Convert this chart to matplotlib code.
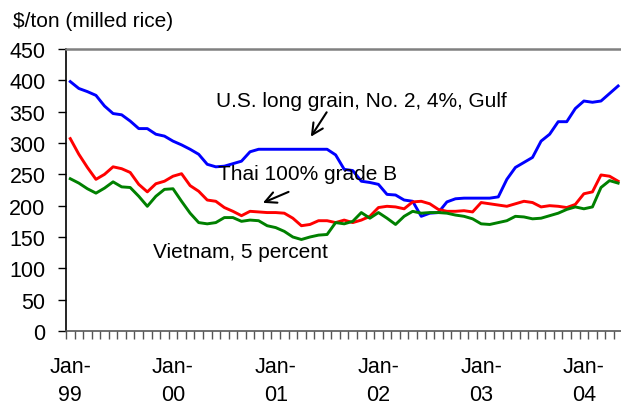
import numpy as np
import matplotlib
matplotlib.use("Agg")
import matplotlib.pyplot as plt

plt.rcParams['font.family'] = ['Liberation Sans', 'DejaVu Sans']

# Monthly data, Jan-1999 .. May-2004
us_gulf = [398, 387, 382, 376, 359, 347, 345, 335, 323, 323, 314, 311,
           303, 297, 290, 282, 266, 262, 263, 267, 271, 286, 290, 290,
           290, 290, 290, 290, 290, 290, 290, 281, 258, 256, 239, 237,
           234, 218, 217, 209, 207, 183, 188, 189, 206, 211, 212, 212,
           212, 212, 214, 242, 261, 269, 277, 303, 314, 334, 334, 355,
           367, 365, 367, 379, 391]
thai_b = [307, 282, 261, 242, 250, 262, 259, 253, 234, 222, 235, 239,
          247, 251, 232, 223, 209, 207, 197, 191, 184, 191, 190, 189,
          189, 188, 180, 168, 170, 176, 176, 173, 177, 173, 177, 183,
          197, 199, 198, 195, 206, 207, 203, 194, 191, 191, 192, 190,
          205, 203, 201, 199, 203, 207, 205, 198, 200, 199, 197, 202,
          219, 222, 249, 247, 239]
vietnam = [243, 236, 227, 220, 228, 238, 230, 229, 215, 199, 215, 226,
           227, 207, 188, 173, 171, 173, 181, 181, 175, 177, 176, 168,
           165, 159, 150, 146, 150, 153, 154, 173, 171, 175, 189, 180,
           189, 180, 170, 183, 191, 188, 189, 189, 188, 185, 183, 179,
           171, 170, 173, 176, 183, 182, 179, 180, 184, 188, 194, 198,
           195, 198, 229, 240, 236]
year_labels = ["Jan-\n99", "Jan-\n00", "Jan-\n01", "Jan-\n02", "Jan-\n03", "Jan-\n04"]
y_ticks = [0, 50, 100, 150, 200, 250, 300, 350, 400, 450]

W, H = 621, 402
fig = plt.figure(figsize=(W / 100, H / 100), dpi=100)
ax = fig.add_axes([66 / W, 1 - 332 / H, (622.4 - 66) / W, (332 - 50) / H])

n = len(us_gulf)
x = np.arange(n)
ax.plot(x, us_gulf, color='#0000FF', lw=2.1, solid_joinstyle='round')
ax.plot(x, thai_b, color='#FF0000', lw=2.1, solid_joinstyle='round')
ax.plot(x, vietnam, color='#008000', lw=2.1, solid_joinstyle='round')

ax.set_xlim(-0.5, n - 0.5)
ax.set_ylim(0, 450)
ax.set_yticks(y_ticks)
ax.set_yticklabels([str(v) for v in y_ticks], fontsize=15.5)
ax.tick_params(axis='y', direction='out', length=5.8, width=1, color='black', pad=9)

ax.set_xticks(np.arange(0, n, 12))
ax.set_xticklabels(year_labels, fontsize=15.5, linespacing=1.45)
ax.set_xticks(np.arange(-0.5, n, 1), minor=True)
ax.tick_params(axis='x', which='major', length=0, pad=18)
ax.tick_params(axis='x', which='minor', direction='out', length=5.8, width=1, color='#555555')

ax.spines['right'].set_visible(False)
ax.spines['top'].set_color('#808080')
ax.spines['top'].set_linewidth(1.8)
ax.spines['left'].set_color('black')
ax.spines['left'].set_linewidth(1.2)
ax.spines['bottom'].set_color('#555555')
ax.spines['bottom'].set_linewidth(1.2)

fig.text(13 / W, 1 - 27 / H, "$/ton (milled rice)", fontsize=15, va='baseline', ha='left')

ax.text(17.0, 358.7, "U.S. long grain, No. 2, 4%, Gulf", fontsize=15, va='baseline', ha='left')
ax.text(17.25, 241.8, "Thai 100% grade B", fontsize=15, va='baseline', ha='left')
ax.text(9.66, 118.5, "Vietnam, 5 percent", fontsize=15, va='baseline', ha='left')

arrow = dict(arrowstyle='->,head_length=0.8,head_width=0.4', color='black', lw=1.5,
             shrinkA=0, shrinkB=0)
ax.annotate("", xy=(28.1, 310), xytext=(29.95, 349), arrowprops=arrow)
ax.annotate("", xy=(22.5, 204.5), xytext=(25.5, 222), arrowprops=arrow)

fig.savefig("out.png", dpi=100)
